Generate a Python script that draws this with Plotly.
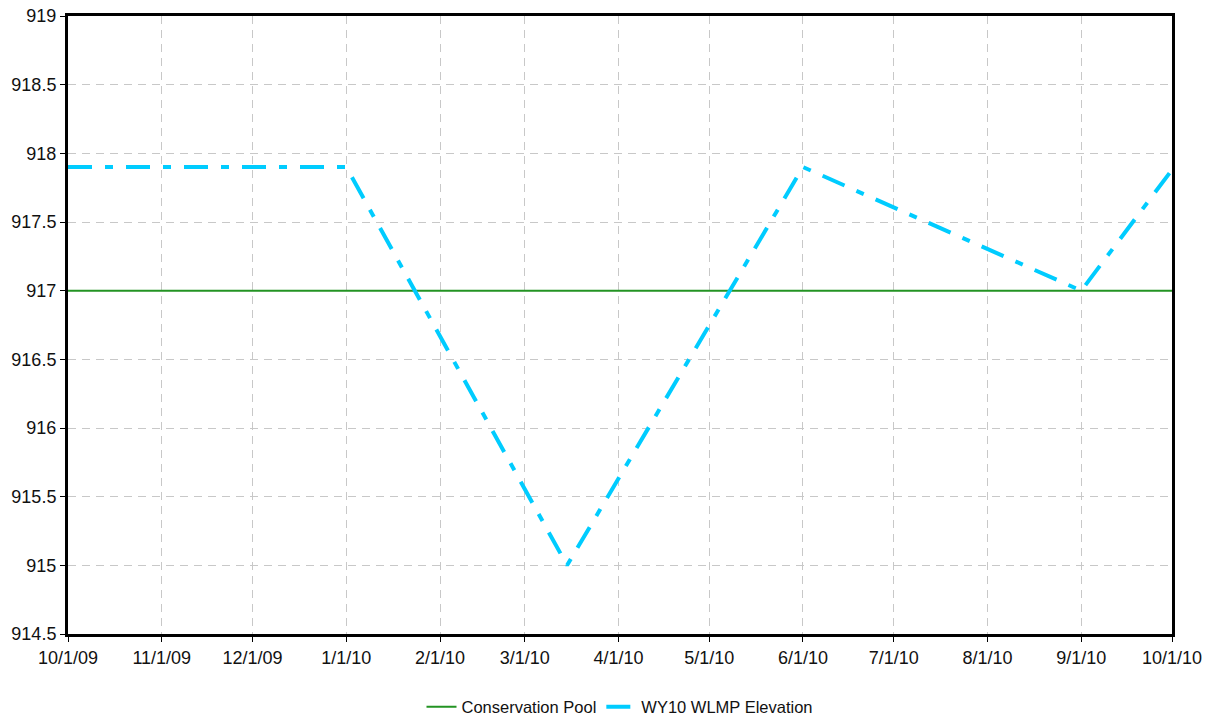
import plotly.graph_objects as go

pool_dates = ["2009-10-01", "2010-10-01"]
pool_values = [917.0, 917.0]

wlmp_dates = ["2009-10-01", "2010-01-01", "2010-03-15", "2010-06-01", "2010-09-01", "2010-10-01"]
wlmp_values = [917.9, 917.9, 915.0, 917.9, 917.0, 917.88]

tick_dates = ["2009-10-01", "2009-11-01", "2009-12-01", "2010-01-01", "2010-02-01", "2010-03-01",
              "2010-04-01", "2010-05-01", "2010-06-01", "2010-07-01", "2010-08-01", "2010-09-01", "2010-10-01"]
tick_labels = ["10/1/09", "11/1/09", "12/1/09", "1/1/10", "2/1/10", "3/1/10", "4/1/10",
               "5/1/10", "6/1/10", "7/1/10", "8/1/10", "9/1/10", "10/1/10"]
y_ticks = [914.5, 915, 915.5, 916, 916.5, 917, 917.5, 918, 918.5, 919]

fig = go.Figure()
fig.add_trace(go.Scatter(x=pool_dates, y=pool_values, mode="lines", name="Conservation Pool",
                         line=dict(color="#239323", width=2)))
fig.add_trace(go.Scatter(x=wlmp_dates, y=wlmp_values, mode="lines", name="WY10 WLMP Elevation",
                         line=dict(color="#00ccff", width=4, dash="24px,13px,8px,13px")))

fig.update_layout(
    width=1214, height=717,
    margin=dict(l=60, r=50, t=8, b=91, autoexpand=False),
    paper_bgcolor="white", plot_bgcolor="white",
    font=dict(family="Arial, Liberation Sans, sans-serif", size=18, color="#111"),
    showlegend=True,
    legend=dict(orientation="h", x=0.5, xanchor="center", y=-0.09, yanchor="top",
                font=dict(size=16.5)),
)
fig.update_xaxes(
    range=["2009-10-01", "2010-10-01"], tickmode="array", tickvals=tick_dates, ticktext=tick_labels,
    showgrid=True, gridcolor="#c8c8c8", griddash="8px,6px", gridwidth=1,
    showline=True, linecolor="black", linewidth=3, mirror=True, automargin=False,
    ticks="outside", ticklen=5, tickcolor="black", tickfont=dict(size=18), zeroline=False,
    ticklabeloverflow="allow",
)
fig.update_yaxes(
    range=[914.5, 919], tickmode="array", tickvals=y_ticks, ticktext=[f"{v:g}" for v in y_ticks],
    showgrid=True, gridcolor="#c8c8c8", griddash="8px,6px", gridwidth=1,
    showline=True, linecolor="black", linewidth=3, mirror=True, automargin=False,
    ticks="outside", ticklen=5, tickcolor="black", tickfont=dict(size=18), zeroline=False,
    ticklabeloverflow="allow",
)

fig.write_html("out.html")
